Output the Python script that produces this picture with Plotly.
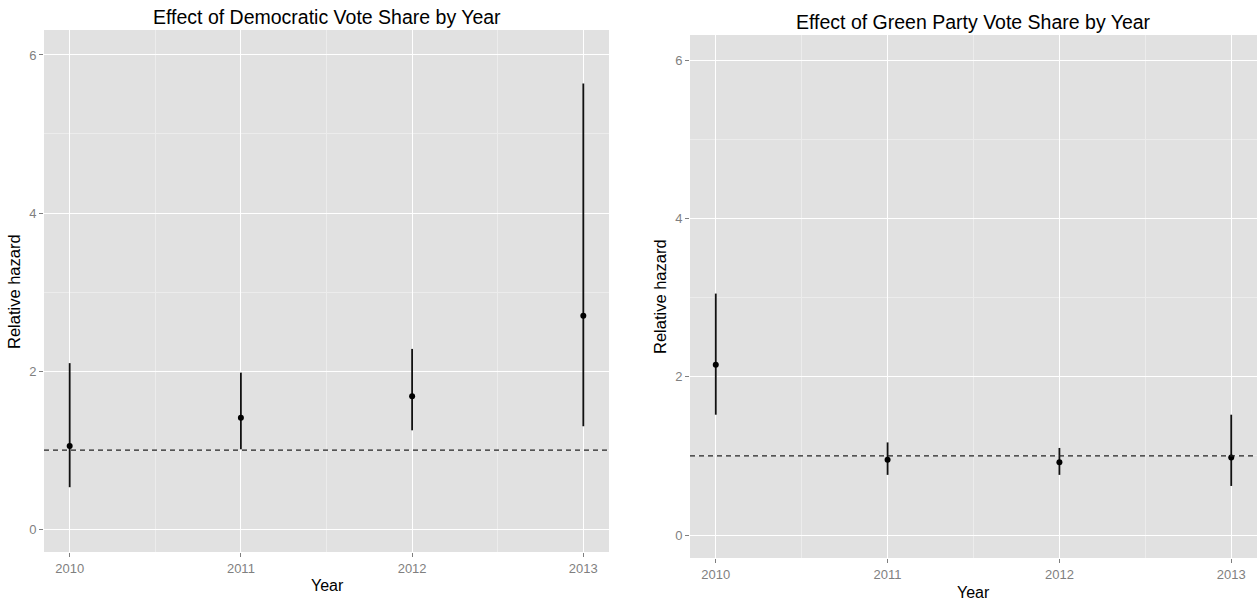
import plotly.graph_objects as go

# Estimates of relative hazard by year, with confidence bounds
years = [2010, 2011, 2012, 2013]

dem_est = [1.05, 1.41, 1.68, 2.70]
dem_low = [0.53, 1.01, 1.25, 1.30]
dem_high = [2.10, 1.98, 2.28, 5.64]

green_est = [2.15, 0.95, 0.92, 0.98]
green_low = [1.52, 0.76, 0.76, 0.62]
green_high = [3.05, 1.17, 1.10, 1.52]

year_ticks = [2010, 2011, 2012, 2013]
hazard_ticks = [0, 2, 4, 6]
reference_level = 1

W, H = 1257, 605
PANEL_BG = "#E1E1E1"
GRID = "#FFFFFF"
MINOR_GRID = "#ECECEC"
TICK_GREY = "#7F7F7F"
FONT = "Liberation Sans, Arial, sans-serif"


def px_x(p):
    return p / W


def px_y(p):
    return 1 - p / H


def label(text, x, y, size, angle=0):
    fig.add_annotation(text=text, xref="paper", yref="paper",
                       x=px_x(x), y=px_y(y), showarrow=False, textangle=angle,
                       xanchor="center", yanchor="middle",
                       font=dict(family=FONT, size=size, color="black"))


fig = go.Figure()

panels = [
    ("Effect of Democratic Vote Share by Year", dem_est, dem_low, dem_high,
     (44, 609), (30, 552), "x", "y"),
    ("Effect of Green Party Vote Share by Year", green_est, green_low, green_high,
     (690, 1257), (35, 558), "x2", "y2"),
]

for title, est, low, high, (x0, x1), (y0, y1), xa, ya in panels:
    fig.add_trace(go.Scatter(
        x=years, y=est, mode="markers",
        marker=dict(color="black", size=6),
        error_y=dict(
            type="data", symmetric=False,
            array=[h - e for h, e in zip(high, est)],
            arrayminus=[e - l for e, l in zip(est, low)],
            color="#111111", thickness=1.8, width=0,
        ),
        xaxis=xa, yaxis=ya, showlegend=False, hoverinfo="skip",
    ))

    xkey = "xaxis" if xa == "x" else "xaxis2"
    ykey = "yaxis" if ya == "y" else "yaxis2"
    fig.update_layout({
        xkey: dict(
            domain=[px_x(x0), px_x(x1)], anchor=ya, range=[2009.85, 2013.15],
            tickvals=year_ticks, ticktext=[str(v) for v in year_ticks],
            showgrid=True, gridcolor=GRID, gridwidth=1.3, zeroline=False,
            ticks="outside", ticklen=4, tickcolor=TICK_GREY, tickwidth=1,
            tickfont=dict(family=FONT, size=13, color=TICK_GREY),
            minor=dict(tickvals=[2010.5, 2011.5, 2012.5], showgrid=True,
                       gridcolor=MINOR_GRID, gridwidth=0.6, ticks=""),
            showline=False, fixedrange=True,
        ),
        ykey: dict(
            domain=[px_y(y1), px_y(y0)], anchor=xa, range=[-0.29, 6.316],
            tickvals=hazard_ticks, ticktext=[str(v) for v in hazard_ticks],
            showgrid=True, gridcolor=GRID, gridwidth=1.3, zeroline=False,
            ticks="outside", ticklen=4, tickcolor=TICK_GREY, tickwidth=1,
            tickfont=dict(family=FONT, size=13, color=TICK_GREY),
            minor=dict(tickvals=[1, 3, 5], showgrid=True,
                       gridcolor=MINOR_GRID, gridwidth=0.6, ticks=""),
            showline=False, fixedrange=True,
        ),
    })

    # panel background
    fig.add_shape(type="rect", xref=f"{xa} domain", yref=f"{ya} domain",
                  x0=0, x1=1, y0=0, y1=1, fillcolor=PANEL_BG,
                  line=dict(width=0), layer="below")
    # reference line at a relative hazard of one
    fig.add_shape(type="line", xref=f"{xa} domain", yref=ya,
                  x0=0, x1=1, y0=reference_level, y1=reference_level,
                  line=dict(color="#222222", width=1.3, dash="5px,4px"))

    label(title, (x0 + x1) / 2, y0 - 13, 19.5)

# axis titles
label("Year", 327, 585, 16)
label("Year", 973, 592, 16)
label("Relative hazard", 14, 292, 16.5, angle=-90)
label("Relative hazard", 660, 297, 16.5, angle=-90)

fig.update_layout(
    width=W, height=H,
    margin=dict(l=0, r=0, t=0, b=0),
    paper_bgcolor="white", plot_bgcolor="rgba(0,0,0,0)",
    font=dict(family=FONT),
)

fig.write_html("out.html")
